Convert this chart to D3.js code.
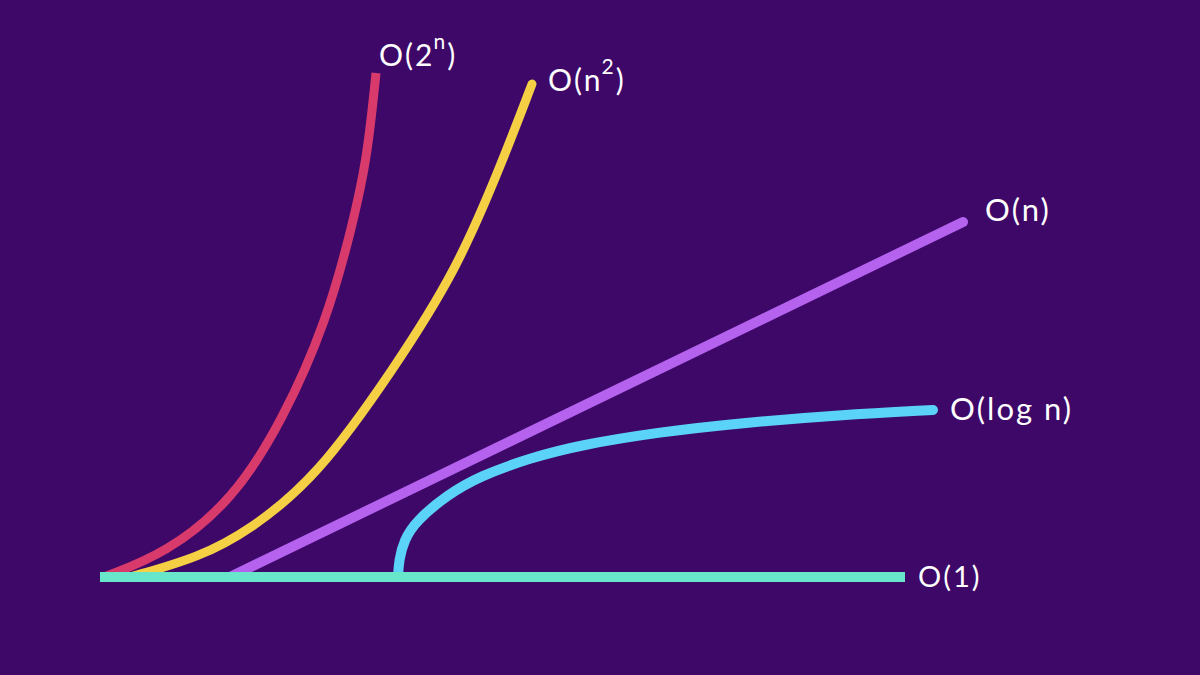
<!DOCTYPE html>
<html><head><meta charset="utf-8">
<script src="https://cdn.jsdelivr.net/npm/d3@7"></script>
<style>html,body{margin:0;padding:0;background:#3e0868;}svg{display:block}</style>
</head><body>
<svg id="c" width="1200" height="675"></svg>
<script>
// data units: x = input size n, y = operations
const seriesNames = ["O(1)", "O(log n)", "O(n)", "O(n^2)", "O(2^n)"];
const constant = [[0,0],[80.5,0]];
const logN = [[29.8,0],[29.9,1.7],[30.4,3.7],[31.6,5.6],[34.7,8.2],[38.0,10.1],[43.0,11.9],[48.0,13.2],[56.0,14.5],[64.0,15.4],[74.0,16.2],[83.3,16.7]];
const linear = [[13.0,0],[86.3,35.5]];
const quadratic = [[3.0,0],[10.0,2.0],[15.0,4.7],[21.7,10.0],[29.3,20.7],[35.7,30.7],[40.3,41.7],[43.2,49.3]];
const exponential = [[0.4,0],[6.7,2.4],[13.3,7.7],[18.3,15.7],[22.7,25.7],[25.2,35.0],[26.7,41.7],[27.6,50.4]];

const W = 1200, H = 675;
const svg = d3.select("#c");
svg.append("rect").attr("width", W).attr("height", H).attr("fill", "#3e0868");

const x = d3.scaleLinear().domain([0, 110]).range([100, 1200]);
const y = d3.scaleLinear().domain([0, 50]).range([577, 77]);

const line = d3.line().x(d => x(d[0])).y(d => y(d[1])).curve(d3.curveBasis);

const defs = [
  {data: exponential, color: "#d83a6b", width: 9, cap: "butt"},
  {data: quadratic, color: "#f5d045", width: 9, cap: "round"},
  {data: linear, color: "#b562ef", width: 10, cap: "round"},
  {data: logN, color: "#5bd3f8", width: 10, cap: "round"},
  {data: constant, color: "#68e6c9", width: 10, cap: "butt"}
];
defs.forEach(s => {
  svg.append("path").attr("d", line(s.data)).attr("fill", "none")
    .attr("stroke", s.color).attr("stroke-width", s.width).attr("stroke-linecap", s.cap);
});

const font = "Lato, 'Open Sans', sans-serif";
function label(px, py, base, sup, size) {
  const t = svg.append("text").attr("x", px).attr("y", py)
    .attr("fill", "#ffffff").attr("font-family", font).attr("font-size", size)
    .attr("letter-spacing", 2);
  if (sup) {
    t.append("tspan").text(base);
    t.append("tspan").attr("font-size", 21).attr("dy", -17).attr("dx", -1).text(sup);
    t.append("tspan").attr("dy", 17).text(")");
  } else t.text(base);
}
label(x(27.9), 66, "O(2", "n", 30);
label(x(44.8), 91, "O(n", "2", 30);
label(x(88.5), 221, "O(n)", null, 31);
label(x(85), 420, "O(log n)", null, 31);
label(x(81.8), 587, "O(1)", null, 29);
</script>
</body></html>
